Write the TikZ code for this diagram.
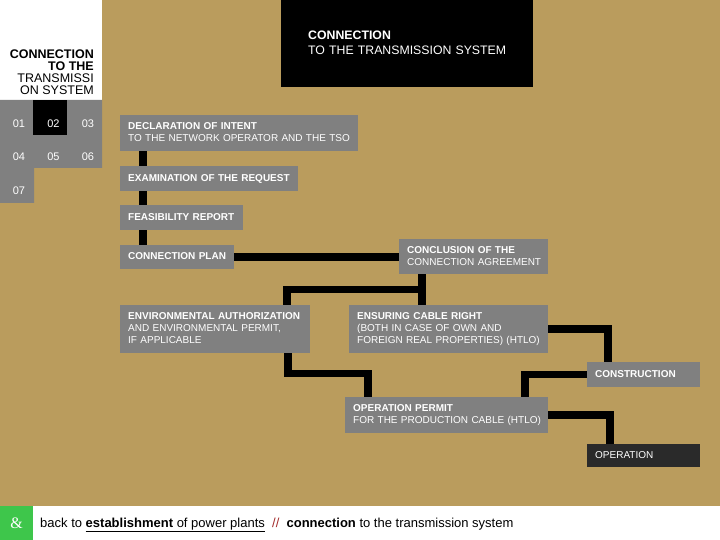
\documentclass[tikz,border=0pt]{standalone}
\usepackage{fontspec}
\setmainfont{Liberation Sans}
\newfontfamily\ampfont{Liberation Serif}
\usepackage{xcolor}
\definecolor{PaperTan}{HTML}{BA9C5D}
\definecolor{StepGray}{HTML}{808080}
\definecolor{FinalDark}{HTML}{2A2A2A}
\definecolor{BackGreen}{HTML}{3EC64B}
\definecolor{SlashRed}{HTML}{A32A2A}
\usetikzlibrary{positioning}
% lines of a step box, never broken
\newcommand{\steplines}[1]{\begin{tabular}{@{}l@{}}#1\end{tabular}}
\tikzset{
  % Box styles
  stepbox/.style={rectangle, fill=StepGray, text=white, anchor=north west, inner xsep=8pt, inner ysep=0pt, align=left, font=\fontsize{10}{12}\selectfont},
  finalbox/.style={stepbox, fill=FinalDark},
  titlebox/.style={rectangle, fill=black, text=white, anchor=north west, inner xsep=27pt, inner ysep=0pt, align=left, font=\fontsize{12.3}{15}\selectfont},
  % Menu styles
  menucell/.style={text=white, inner sep=0pt, font=\fontsize{11}{13}\selectfont},
  % Connector styles
  link/.style={line width=7.5pt, black, line join=miter}
}

\begin{document}
\begin{tikzpicture}[x=1pt, y=-1pt]
  \useasboundingbox (0,0) rectangle (720,540);
  \fill[PaperTan] (0,0) rectangle (720,540);

  % Side panel
  \fill[white] (0,0) rectangle (102,100);
  \node[anchor=north east, inner sep=0pt, align=right, font=\fontsize{12.5}{12}\selectfont] (side) at (94,50) {\textbf{CONNECTION}\\\textbf{TO THE}\\TRANSMISSI\\ON SYSTEM};
  \fill[StepGray] (0,100) -- (102,100) -- (102,168) -- (34,168) -- (34,203) -- (0,203) -- cycle;
  \fill[black] (33,100) rectangle (67,135);
  \foreach \num/\px/\py in {01/19/124, 02/53.5/124, 03/88/124, 04/19/157, 05/53.5/157, 06/88/157, 07/19/191}
    \node[menucell] (m\num) at (\px,\py) {\num};

  % Title
  \node[titlebox, text width=198pt, minimum height=87pt] (title) at (281,0) {\steplines{\textbf{CONNECTION}\\TO THE TRANSMISSION SYSTEM}};

  % Steps
  \node[stepbox, text width=222pt, minimum height=36pt] (decl) at (120,115) {\steplines{\textbf{DECLARATION OF INTENT}\\TO THE NETWORK OPERATOR AND THE TSO}};
  \node[stepbox, text width=162pt, minimum height=25pt] (exam) at (120,166) {\steplines{\textbf{EXAMINATION OF THE REQUEST}}};
  \node[stepbox, text width=107pt, minimum height=25pt] (feas) at (120,205) {\steplines{\textbf{FEASIBILITY REPORT}}};
  \node[stepbox, text width=98pt, minimum height=24pt] (plan) at (120,245) {\steplines{\textbf{CONNECTION PLAN}}};
  \node[stepbox, text width=133pt, minimum height=35pt] (concl) at (399,239) {\steplines{\textbf{CONCLUSION OF THE}\\CONNECTION AGREEMENT}};
  \node[stepbox, text width=174pt, minimum height=48pt] (env) at (120,305) {\steplines{\textbf{ENVIRONMENTAL AUTHORIZATION}\\AND ENVIRONMENTAL PERMIT,\\IF APPLICABLE}};
  \node[stepbox, text width=183pt, minimum height=48pt] (ens) at (349,305) {\steplines{\textbf{ENSURING CABLE RIGHT}\\(BOTH IN CASE OF OWN AND\\FOREIGN REAL PROPERTIES) (HTLO)}};
  \node[stepbox, text width=97pt, minimum height=25pt] (cons) at (587,362) {\steplines{\textbf{CONSTRUCTION}}};
  \node[stepbox, text width=187pt, minimum height=36pt] (perm) at (345,397) {\steplines{\textbf{OPERATION PERMIT}\\FOR THE PRODUCTION CABLE (HTLO)}};
  \node[finalbox, text width=97pt, minimum height=23pt] (oper) at (587,444) {\steplines{OPERATION}};

  % Connectors
  \draw[link] ([xshift=23pt]decl.south west) -- ([xshift=23pt]exam.north west);
  \draw[link] ([xshift=23pt]exam.south west) -- ([xshift=23pt]feas.north west);
  \draw[link] ([xshift=23pt]feas.south west) -- ([xshift=23pt]plan.north west);
  \draw[link] (plan.east) -- (plan.east -| concl.west);
  \draw[link] ([xshift=23pt]concl.south west) -- ([xshift=73pt]ens.north west);
  \draw[link] ([xshift=23pt,yshift=-15pt]concl.south west) -| ([xshift=167pt]env.north west);
  \draw[link] (ens.east) -| ([xshift=21pt]cons.north west);
  \draw[link] ([xshift=168pt]env.south west) -- ++(0,20) -| ([xshift=23pt]perm.north west);
  \draw[link] (cons.west) -| ([xshift=180pt]perm.north west);
  \draw[link] (perm.east) -| ([xshift=23pt]oper.north west);

  % Footer
  \fill[white] (0,506) rectangle (720,540);
  \fill[BackGreen] (0,506) rectangle (33,540);
  \node[text=white, inner sep=0pt, font=\ampfont\fontsize{16}{16}\selectfont] (amp) at (16.5,523) {\&};
  \node[anchor=base west, inner sep=0pt, font=\fontsize{13}{15}\selectfont] (back) at (40,527) {back to \underline{\textbf{establishment} of power plants}\ \ \textcolor{SlashRed}{//}\ \ \textbf{connection} to the transmission system};
\end{tikzpicture}
\end{document}
